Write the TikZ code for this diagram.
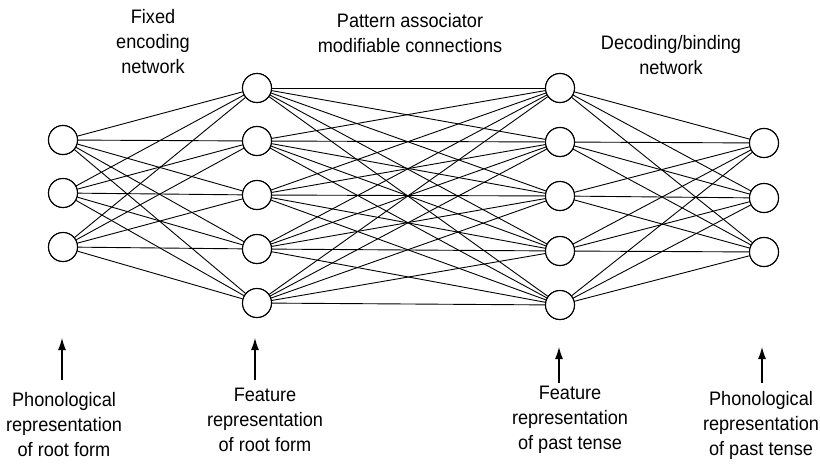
\documentclass[tikz,border=0pt]{standalone}
\usepackage{fontspec}
\setmainfont{Liberation Sans}[FakeStretch=0.93]
\usetikzlibrary{arrows.meta}
\begin{document}
\begin{tikzpicture}[x=1pt,y=-1pt,
  unit/.style={circle,draw,line width=1.1pt,fill=white,minimum size=29pt,inner sep=0pt},
  link/.style={line width=0.9pt},
  lab/.style={align=center,font=\fontsize{19.5}{25}\selectfont,inner sep=0pt},
  up/.style={line width=1.1pt,-{Latex[length=12pt,width=8pt]}}]
\useasboundingbox (0,0) rectangle (820,466);
% input layer: phonological representation of root form
\foreach \i/\y in {1/140,2/193,3/247} \node[unit] (a\i) at (63,\y) {};
% feature representation of root form
\foreach \i/\y in {1/88,2/141,3/195,4/249,5/303} \node[unit] (b\i) at (257,\y) {};
% feature representation of past tense
\foreach \i/\y in {1/88,2/142,3/196,4/251,5/305} \node[unit] (c\i) at (560,\y) {};
% output layer: phonological representation of past tense
\foreach \i/\y in {1/143,2/198,3/252} \node[unit] (d\i) at (764,\y) {};
% connections
\foreach \i in {1,2,3} \foreach \j in {1,...,5} \draw[link] (a\i) -- (b\j);
\foreach \i in {1,...,5} \foreach \j in {1,...,5} \draw[link] (b\i) -- (c\j);
\foreach \i in {1,...,5} \foreach \j in {1,2,3} \draw[link] (c\i) -- (d\j);
% redraw units on top of connections
\foreach \i in {1,2,3} \node[unit] at (a\i) {};
\foreach \i in {1,...,5} \node[unit] at (b\i) {};
\foreach \i in {1,...,5} \node[unit] at (c\i) {};
\foreach \i in {1,2,3} \node[unit] at (d\i) {};
% headings
\node[lab] (h1) at (153,42) {Fixed\\encoding\\network};
\node[lab] (h2) at (410,33) {Pattern associator\\modifiable connections};
\node[lab] (h3) at (671,55) {Decoding/binding\\network};
% bottom labels
\node[lab] (l1) at (64,425) {Phonological\\representation\\of root form};
\node[lab] (l2) at (265,420) {Feature\\representation\\of root form};
\node[lab] (l3) at (570,420) {Feature\\representation\\of past tense};
\node[lab] (l4) at (761,425) {Phonological\\representation\\of past tense};
% arrows
\coordinate (s1) at (62,380); \coordinate (t1) at (62,338);
\coordinate (s2) at (255,380); \coordinate (t2) at (255,338);
\coordinate (s3) at (559,383); \coordinate (t3) at (559,347);
\coordinate (s4) at (762,383); \coordinate (t4) at (762,347);
\foreach \k in {1,...,4} \draw[up] (s\k) -- (t\k);
\end{tikzpicture}
\end{document}
